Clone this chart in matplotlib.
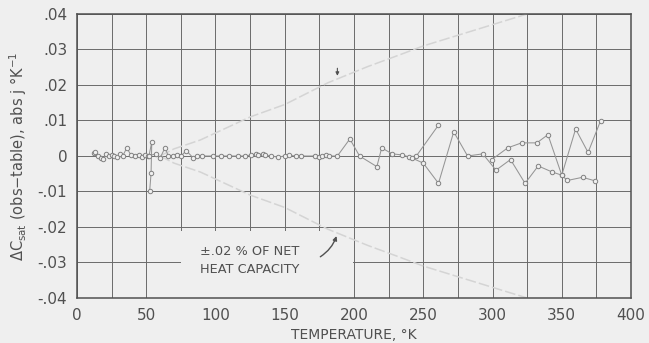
import numpy as np
import matplotlib.pyplot as plt
from matplotlib.patches import Rectangle

# ----------------------------
# Data
# ----------------------------
# main series: low temperature points plus upper zigzag
temp_a = [12, 13, 15, 17, 19, 21, 23, 25, 27, 29, 31, 33, 36, 39, 42, 45,
          47, 49, 51, 57, 60, 63.5, 66, 69, 72, 75, 79, 84, 87, 90, 98, 104,
          110, 116, 121.5, 126, 129, 131, 134, 136, 140, 145, 150, 153, 158,
          161.5, 172, 175, 177, 180, 182, 188, 197, 204, 216.5, 220, 227.5,
          235, 240, 245, 261, np.nan, 299.5, 311, 321, 332, 340, 350, 360,
          369, 378]
dev_a = [0.0008, 0.0012, 0.0, -0.0006, -0.0008, 0.0005, 0.0, 0.0003, 0.0,
         -0.0003, 0.0005, 0.0, 0.0023, 0.0002, 0.0, 0.0004, -0.0003, 0.0003,
         0.0, 0.0006, -0.0006, 0.0023, 0.0, 0.0, 0.0002, 0.0, 0.0015,
         -0.0006, 0.0, 0.0, 0.0, 0.0, 0.0, 0.0, 0.0, 0.0003, 0.0005, 0.0004,
         0.0005, 0.0002, 0.0, -0.0003, 0.0, 0.0002, 0.0, 0.0, 0.0, -0.0003,
         0.0, 0.0002, 0.0, 0.0, 0.0048, 0.0, -0.003, 0.0023, 0.0006,
         0.0003, -0.0003, 0.0, 0.0087, np.nan, -0.001, 0.0023, 0.0037,
         0.0037, 0.006, -0.0054, 0.0076, 0.001, 0.0099]

# second series: lower zigzag above 240 K
temp_b = [242, 250, 261, 272, 282, 293, 302.5, 313, 323.5, 333, 343, 350,
          354, 365, 374]
dev_b = [-0.0006, -0.002, -0.0077, 0.0068, 0.0, 0.0006, -0.004, -0.001,
         -0.0077, -0.0028, -0.0045, -0.0054, -0.0069, -0.006, -0.007]

# spike near 54 K
temp_c = [52, 54, 53.5, 52.5]
dev_c = [0.0, 0.004, -0.0048, -0.0098]

# +/- 0.02 % of net heat capacity
temp_band = [60, 70, 89, 125, 150, 181, 210, 233, 250, 275, 300, 325]
band = [0.0, 0.002, 0.0045, 0.011, 0.0145, 0.0206, 0.0252, 0.0285, 0.031,
        0.034, 0.037, 0.040]

x_ticks = [0, 50, 100, 150, 200, 250, 300, 350, 400]
y_ticks = [-0.04, -0.03, -0.02, -0.01, 0, 0.01, 0.02, 0.03, 0.04]
y_tick_labels = ["-.04", "-.03", "-.02", "-.01", "0", ".01", ".02", ".03", ".04"]

# ----------------------------
# Style
# ----------------------------
BG = "#efefef"
INK = "#505050"
DATA = "#959595"

fig = plt.figure(figsize=(6.49, 3.43), dpi=100, facecolor=BG)
ax = fig.add_axes([0.1186, 0.1312, 0.8537, 0.828])
ax.set_facecolor(BG)

ax.set_xlim(0, 400)
ax.set_ylim(-0.04, 0.04)

ax.set_xticks(x_ticks)
ax.set_xticks(np.arange(25, 400, 50), minor=True)
ax.set_yticks(y_ticks)
ax.set_yticklabels(y_tick_labels)
ax.tick_params(which="both", length=0, colors=INK, labelsize=11, pad=7)
ax.grid(True, which="both", color="#6a6a6a", linewidth=0.7)
ax.set_axisbelow(True)
for s in ax.spines.values():
    s.set_color("#505050")
    s.set_linewidth(1.1)

# mask behind the note (grid hidden there)
ax.add_patch(Rectangle((75, -0.04), 124, 0.0188, facecolor=BG,
                       edgecolor="none", zorder=1.5))

# band curves
ax.plot(temp_band, band, color="#d4d4d4", lw=1.1, ls=(0, (7, 2)), zorder=2)
ax.plot(temp_band, -np.array(band), color="#d4d4d4", lw=1.1, ls=(0, (7, 2)),
        zorder=2)

# data series
marker_kw = dict(marker="o", ms=3.2, mfc=BG, mec="#808080", mew=0.7,
                 color=DATA, lw=0.75, zorder=3)
ax.plot(temp_a, dev_a, **marker_kw)
ax.plot(temp_b, dev_b, **marker_kw)
ax.plot(temp_c, dev_c, **marker_kw)

# annotations
ax.text(89, -0.0252, "±.02 % OF NET\nHEAT CAPACITY", fontsize=9.3,
        color=INK, va="top", ha="left", linespacing=1.5, zorder=4)
ax.annotate("", xy=(188, -0.0218), xytext=(174, -0.0288),
            arrowprops=dict(arrowstyle="-|>", color=INK, lw=1.0,
                            mutation_scale=6,
                            connectionstyle="arc3,rad=0.2"), zorder=4)
ax.annotate("", xy=(188, 0.0218), xytext=(188, 0.0255),
            arrowprops=dict(arrowstyle="-|>", color=INK, lw=0.8,
                            mutation_scale=5), zorder=4)

ax.set_xlabel("TEMPERATURE, °K", fontsize=10, color=INK, labelpad=4)
ax.set_ylabel(r"$\Delta$C$_{\mathrm{sat}}$ (obs$-$table), abs j °K$^{-1}$",
              fontsize=10.5, color=INK, labelpad=6)

fig.savefig("out.png", dpi=100, facecolor=BG)
